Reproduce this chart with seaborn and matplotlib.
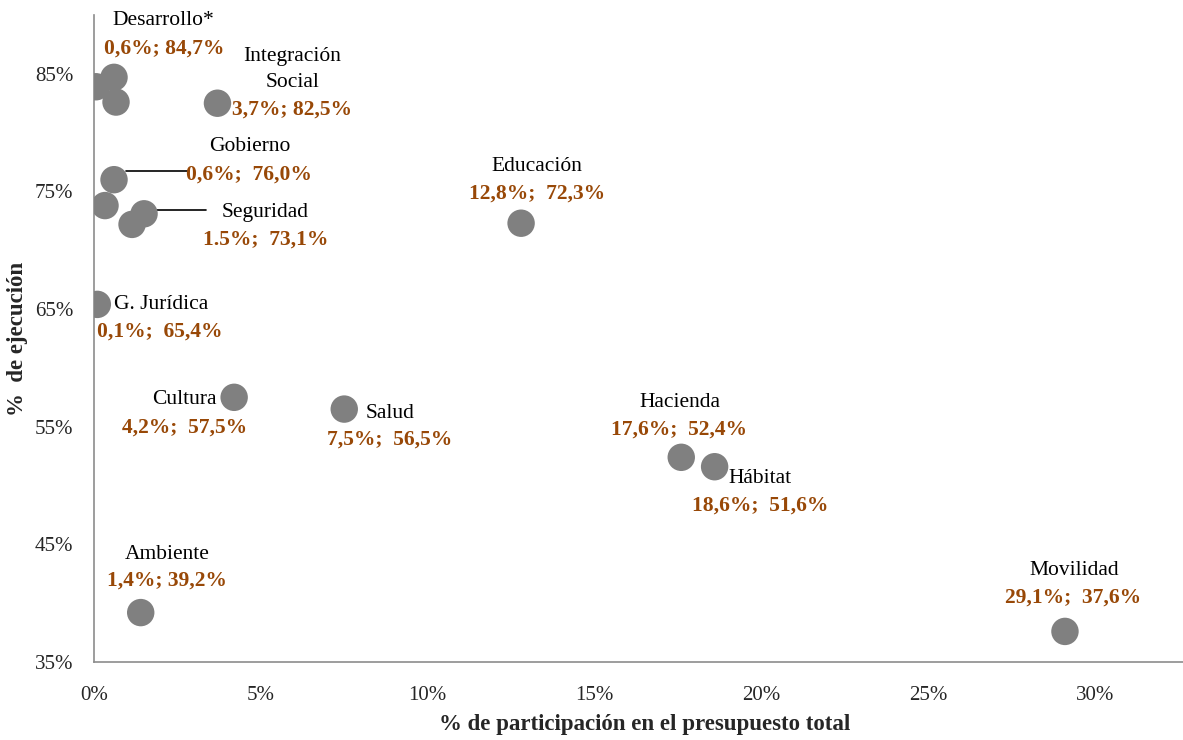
import matplotlib
matplotlib.use("Agg")
import matplotlib.pyplot as plt
import seaborn as sns
import pandas as pd
from matplotlib.ticker import FuncFormatter, MultipleLocator

sectors = ["Desarrollo*", "", "", "Integración\nSocial", "Gobierno", "", "Seguridad", "",
           "G. Jurídica", "Cultura", "Salud", "Educación", "Hacienda", "Hábitat",
           "Ambiente", "Movilidad"]
participacion = [0.6, 0.06, 0.66, 3.7, 0.6, 0.33, 1.5, 1.14,
                 0.1, 4.2, 7.5, 12.8, 17.6, 18.6, 1.4, 29.1]
ejecucion = [84.7, 83.9, 82.6, 82.5, 76.0, 73.8, 73.1, 72.2,
             65.4, 57.5, 56.5, 72.3, 52.4, 51.6, 39.2, 37.6]
value_labels = ["0,6%; 84,7%", "", "", "3,7%; 82,5%", "0,6%;  76,0%", "", "1.5%;  73,1%", "",
                "0,1%;  65,4%", "4,2%;  57,5%", "7,5%;  56,5%", "12,8%;  72,3%",
                "17,6%;  52,4%", "18,6%;  51,6%", "1,4%; 39,2%", "29,1%;  37,6%"]

# label layout (pixel offsets from the point): name offset, name ha, value offset
name_off = {0: (49, 57, "center"), 3: (75, 34, "center"), 4: (136, 33, "center"),
            6: (121, 1, "center"), 8: (17, 0, "left"), 9: (-18, -2, "right"),
            10: (21, -4, "left"), 11: (16, 57, "center"), 12: (-1, 55, "center"),
            13: (14, -12, "left"), 14: (27, 58, "center"), 15: (9, 61, "center")}
val_off = {0: (50, 29), 3: (75, -6), 4: (135, 5), 6: (122, -26), 8: (62, -27),
           9: (-50, -30), 10: (45, -31), 11: (16, 30), 12: (-2, 28), 13: (46, -39),
           14: (26, 32), 15: (8, 34)}

df = pd.DataFrame({"x": participacion, "y": ejecucion})

sns.set_style("white")
plt.rcParams["font.family"] = ["Liberation Serif", "DejaVu Serif"]

W, H = 1183, 740
fig = plt.figure(figsize=(W / 100, H / 100), dpi=100)
ax = fig.add_axes([94 / W, 1 - 662 / H, 1 - 94 / W, (662 - 15) / H])

sns.scatterplot(data=df, x="x", y="y", ax=ax, s=390, color="#808080",
                edgecolor="none", linewidth=0, zorder=3)

ax.set_xlim(0, (1183 - 94) / (1001 / 30))
ax.set_ylim(35, 90)
ax.xaxis.set_major_locator(MultipleLocator(5))
ax.set_yticks([35, 45, 55, 65, 75, 85])
ax.xaxis.set_major_formatter(FuncFormatter(lambda v, p: f"{v:.0f}%"))
ax.yaxis.set_major_formatter(FuncFormatter(lambda v, p: f"{v:.0f}%"))
ax.tick_params(axis="both", which="major", labelsize=15, length=5, width=1,
               color="#8c8c8c", direction="out", pad=10)
ax.tick_params(axis="x", pad=12)
for s in ["top", "right"]:
    ax.spines[s].set_visible(False)
for s in ["left", "bottom"]:
    ax.spines[s].set_color("#8c8c8c")
    ax.spines[s].set_linewidth(1.2)

ax.set_xlabel("% de participación en el presupuesto total", fontsize=16.5,
              fontweight="bold")
ax.set_ylabel("%  de ejecución", fontsize=16.5, fontweight="bold")
ax.xaxis.set_label_coords((645 - 94) / 1089, (662 - 714) / 647)
ax.yaxis.set_label_coords((28 - 94) / 1089, 0.5)

brown = "#984807"
for i in range(len(sectors)):
    if i in name_off:
        dx, dy, ha = name_off[i]
        ax.annotate(sectors[i], (participacion[i], ejecucion[i]), xytext=(dx, dy),
                    textcoords="offset pixels", ha=ha, va="center", fontsize=15.5,
                    color="black", linespacing=1.5)
    if i in val_off:
        dx, dy = val_off[i]
        ax.annotate(value_labels[i], (participacion[i], ejecucion[i]), xytext=(dx, dy),
                    textcoords="offset pixels", ha="center", va="center", fontsize=15.5,
                    color=brown, fontweight="bold")

# leader lines for Gobierno and Seguridad
for i, (x0, x1, dy) in {4: (12, 75, 9), 6: (10, 62, 4)}.items():
    px, py = ax.transData.transform((participacion[i], ejecucion[i]))
    inv = ax.transData.inverted()
    a = inv.transform((px + x0, py + dy))
    b = inv.transform((px + x1, py + dy))
    ax.plot([a[0], b[0]], [a[1], b[1]], color="black", lw=1.2, zorder=2)

fig.savefig("out.png", dpi=100)
